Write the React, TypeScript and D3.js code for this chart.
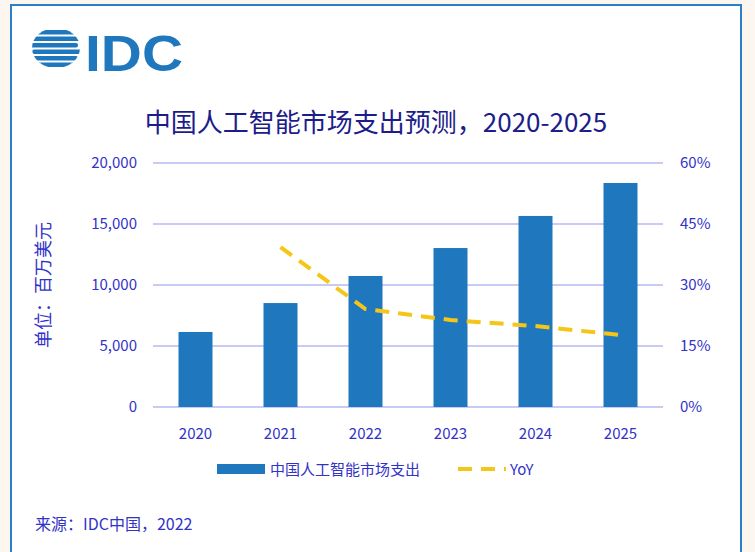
import { useEffect, useRef } from 'react';
import * as d3 from 'd3';

const years = ['2020', '2021', '2022', '2023', '2024', '2025'];
const spend = [6150, 8520, 10740, 13030, 15660, 18360];
const yoyYears = ['2021', '2022', '2023', '2024', '2025'];
const yoy = [39.3, 24.1, 21.4, 19.9, 17.7];
const leftTicks = [0, 5000, 10000, 15000, 20000];
const rightTicks = [0, 15, 30, 45, 60];

const FONT = '"Microsoft YaHei", "Noto Sans CJK SC", sans-serif';
const TXT = '#3232c8';

export default function App() {
  const ref = useRef<SVGSVGElement>(null);

  useEffect(() => {
    const svg = d3.select(ref.current);
    svg.selectAll('*').remove();
    const W = 755, H = 552;
    const m = { left: 153, right: 663, top: 163, bottom: 407 };

    svg.append('rect').attr('width', W).attr('height', H).attr('fill', '#fdf5ef');
    svg.append('rect').attr('x', 11).attr('y', 5).attr('width', 730).attr('height', 560)
      .attr('fill', '#fff').attr('stroke', '#2a7fc8').attr('stroke-width', 2);

    // logo: striped circle
    const defs = svg.append('defs');
    defs.append('clipPath').attr('id', 'globe').append('ellipse')
      .attr('cx', 56).attr('cy', 48).attr('rx', 24).attr('ry', 20);
    const logo = svg.append('g').attr('clip-path', 'url(#globe)');
    [30, 36.5, 43, 49.5, 56, 62.5].forEach((sy, i) => {
      logo.append('rect').attr('x', 28 + (i % 2 ? 4 : 0)).attr('y', sy)
        .attr('width', 50).attr('height', 4.5).attr('rx', 2).attr('fill', '#1f78be');
    });
    svg.append('text').attr('x', 85).attr('y', 71).text('IDC')
      .attr('textLength', 98).attr('lengthAdjust', 'spacingAndGlyphs')
      .style('font-family', 'Arial, "Liberation Sans", sans-serif').style('font-size', '50px')
      .style('font-weight', 'bold').attr('fill', '#1f78be');

    svg.append('text').attr('x', 376).attr('y', 132).attr('text-anchor', 'middle')
      .text('中国人工智能市场支出预测，2020-2025')
      .style('font-family', FONT).style('font-size', '26px').attr('fill', '#1c1c8a');

    const x = d3.scaleBand().domain(years).range([m.left, m.right]).paddingInner(0.6).paddingOuter(0.3);
    const y = d3.scaleLinear().domain([0, 20000]).range([m.bottom, m.top]);
    const y2 = d3.scaleLinear().domain([0, 60]).range([m.bottom, m.top]);

    leftTicks.forEach((t) => {
      svg.append('line').attr('x1', m.left).attr('x2', m.right).attr('y1', y(t)).attr('y2', y(t))
        .attr('stroke', '#b8b8f5').attr('stroke-width', 1.3);
      svg.append('text').attr('x', 137).attr('y', y(t) + 5).attr('text-anchor', 'end')
        .text(d3.format(',')(t)).style('font-family', FONT).style('font-size', '15px').attr('fill', TXT);
    });
    rightTicks.forEach((t) => {
      svg.append('text').attr('x', 680).attr('y', y2(t) + 5).text(t + '%')
        .style('font-family', FONT).style('font-size', '15px').attr('fill', TXT);
    });
    years.forEach((yr) => {
      svg.append('text').attr('x', x(yr)! + x.bandwidth() / 2).attr('y', 439).attr('text-anchor', 'middle')
        .text(yr).style('font-family', FONT).style('font-size', '15px').attr('fill', TXT);
    });

    svg.selectAll('.bar').data(spend).enter().append('rect')
      .attr('x', (_, i) => x(years[i])!).attr('y', (d) => y(d))
      .attr('width', x.bandwidth()).attr('height', (d) => y(0) - y(d)).attr('fill', '#1f78be');

    const line = d3.line<number>()
      .x((_, i) => x(yoyYears[i])! + x.bandwidth() / 2).y((d) => y2(d));
    svg.append('path').datum(yoy).attr('d', line).attr('fill', 'none')
      .attr('stroke', '#f5c518').attr('stroke-width', 4).attr('stroke-dasharray', '14 9');

    svg.append('text').attr('transform', 'translate(50,285) rotate(-90)').attr('text-anchor', 'middle')
      .text('单位：百万美元').style('font-family', FONT).style('font-size', '18px').attr('fill', TXT);

    // legend
    svg.append('rect').attr('x', 217).attr('y', 464).attr('width', 48).attr('height', 10).attr('fill', '#1f78be');
    svg.append('text').attr('x', 270).attr('y', 475).text('中国人工智能市场支出')
      .style('font-family', FONT).style('font-size', '15px').attr('fill', TXT);
    svg.append('line').attr('x1', 458).attr('x2', 506).attr('y1', 469).attr('y2', 469)
      .attr('stroke', '#f5c518').attr('stroke-width', 4).attr('stroke-dasharray', '14 9');
    svg.append('text').attr('x', 510).attr('y', 475).text('YoY')
      .style('font-family', FONT).style('font-size', '15px').attr('fill', TXT);

    svg.append('text').attr('x', 35).attr('y', 530).text('来源：IDC中国，2022')
      .style('font-family', FONT).style('font-size', '16px').attr('fill', TXT);
  }, []);

  return <svg ref={ref} width={755} height={552} style={{ position: 'absolute', left: 0, top: 0 }} />;
}
